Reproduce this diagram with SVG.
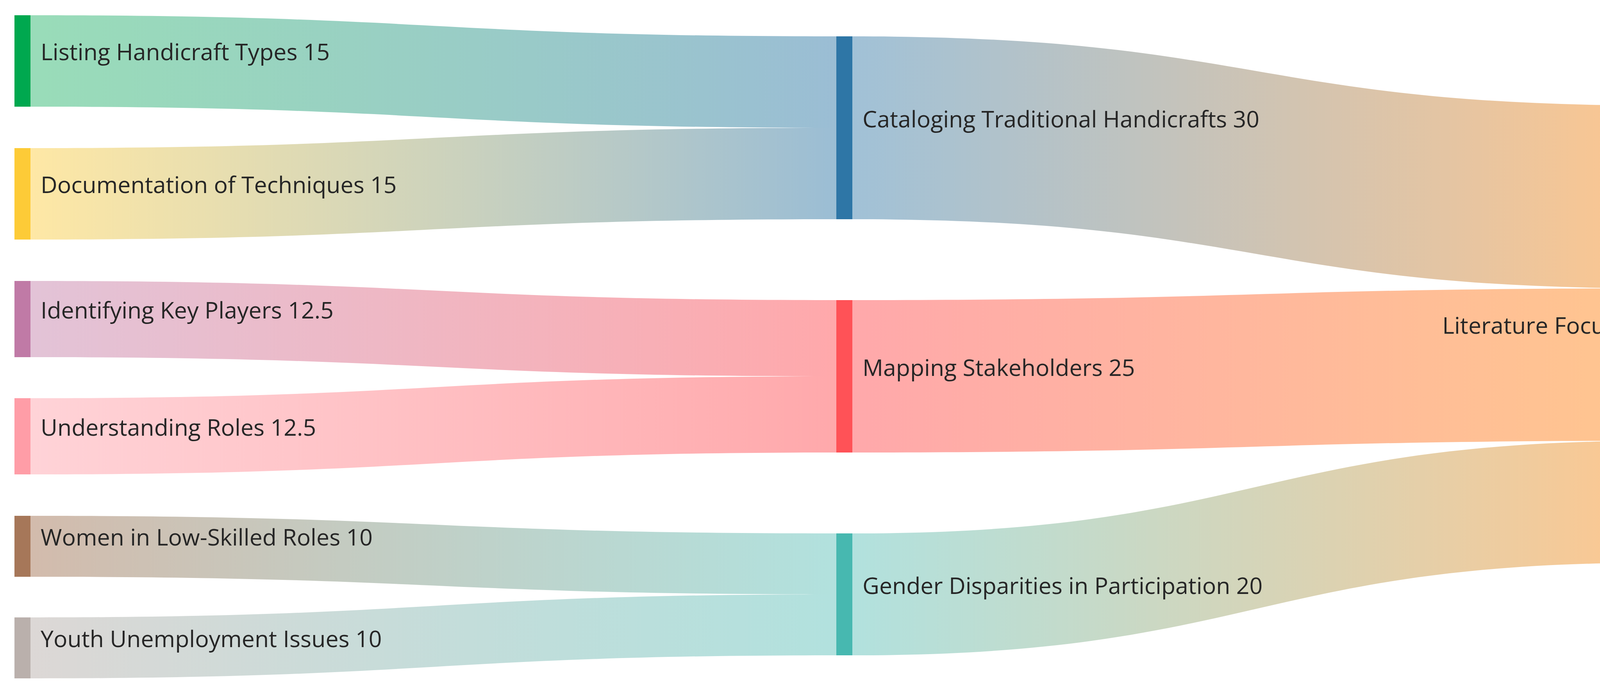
<svg xmlns="http://www.w3.org/2000/svg" width="4334" height="1776" viewBox="0 0 4334 1776">
<style>
text{font-family:"Open Sans","Liberation Sans",sans-serif;font-size:59px;fill:#262626}
.lk{stroke:none}
</style>
<defs>
<linearGradient id="g1" x1="0" x2="1"><stop offset="0" stop-color="#00A84F" stop-opacity="0.4"/><stop offset="1" stop-color="#2E76A6" stop-opacity="0.48"/></linearGradient>
<linearGradient id="g2" x1="0" x2="1"><stop offset="0" stop-color="#FDCB37" stop-opacity="0.45"/><stop offset="1" stop-color="#2E76A6" stop-opacity="0.48"/></linearGradient>
<linearGradient id="g3" x1="0" x2="1"><stop offset="0" stop-color="#C07AA6" stop-opacity="0.45"/><stop offset="1" stop-color="#FF5257" stop-opacity="0.5"/></linearGradient>
<linearGradient id="g4" x1="0" x2="1"><stop offset="0" stop-color="#FF9DA7" stop-opacity="0.45"/><stop offset="1" stop-color="#FF5257" stop-opacity="0.5"/></linearGradient>
<linearGradient id="g5" x1="0" x2="1"><stop offset="0" stop-color="#A67759" stop-opacity="0.5"/><stop offset="1" stop-color="#47B8B0" stop-opacity="0.42"/></linearGradient>
<linearGradient id="g6" x1="0" x2="1"><stop offset="0" stop-color="#BAB0AC" stop-opacity="0.5"/><stop offset="1" stop-color="#47B8B0" stop-opacity="0.42"/></linearGradient>
<linearGradient id="g7" x1="0" x2="1"><stop offset="0" stop-color="#2E76A6" stop-opacity="0.45"/><stop offset="1" stop-color="#FF8E1E" stop-opacity="0.5"/></linearGradient>
<linearGradient id="g8" x1="0" x2="1"><stop offset="0" stop-color="#FF5257" stop-opacity="0.5"/><stop offset="1" stop-color="#FF8E1E" stop-opacity="0.5"/></linearGradient>
<linearGradient id="g9" x1="0" x2="1"><stop offset="0" stop-color="#47B8B0" stop-opacity="0.42"/><stop offset="1" stop-color="#FF8E1E" stop-opacity="0.5"/></linearGradient>
</defs>
<g id="connectors">
<path class="lk" fill="url(#g1)" d="M78,39 C1110,39 1110,93 2141,93 L2141,327 C1110,327 1110,273 78,273 Z"/>
<path class="lk" fill="url(#g2)" d="M78,379 C1110,379 1110,327 2141,327 L2141,561 C1110,561 1110,613 78,613 Z"/>
<path class="lk" fill="url(#g3)" d="M78,719 C1110,719 1110,768 2141,768 L2141,963 C1110,963 1110,914 78,914 Z"/>
<path class="lk" fill="url(#g4)" d="M78,1019 C1110,1019 1110,963 2141,963 L2141,1158 C1110,1158 1110,1214 78,1214 Z"/>
<path class="lk" fill="url(#g5)" d="M78,1320 C1110,1320 1110,1365 2141,1365 L2141,1521 C1110,1521 1110,1476 78,1476 Z"/>
<path class="lk" fill="url(#g6)" d="M78,1580 C1110,1580 1110,1521 2141,1521 L2141,1677 C1110,1677 1110,1736 78,1736 Z"/>
<path class="lk" fill="url(#g7)" d="M2182,93 C3214,93 3214,270 4246,270 L4246,738 C3214,738 3214,561 2182,561 Z"/>
<path class="lk" fill="url(#g8)" d="M2182,768 C3214,768 3214,738 4246,738 L4246,1128 C3214,1128 3214,1158 2182,1158 Z"/>
<path class="lk" fill="url(#g9)" d="M2182,1365 C3214,1365 3214,1128 4246,1128 L4246,1440 C3214,1440 3214,1677 2182,1677 Z"/>
</g>
<g id="n1"><rect x="37" y="39" width="41" height="234" fill="#00A84F"/><text x="104" y="154">Listing Handicraft Types 15</text></g>
<g id="n2"><rect x="37" y="379" width="41" height="234" fill="#FDCB37"/><text x="104" y="494">Documentation of Techniques 15</text></g>
<g id="n3"><rect x="37" y="719" width="41" height="195" fill="#C07AA6"/><text x="104" y="815">Identifying Key Players 12.5</text></g>
<g id="n4"><rect x="37" y="1019" width="41" height="195" fill="#FF9DA7"/><text x="104" y="1115">Understanding Roles 12.5</text></g>
<g id="n5"><rect x="37" y="1320" width="41" height="156" fill="#A67759"/><text x="104" y="1396">Women in Low-Skilled Roles 10</text></g>
<g id="n6"><rect x="37" y="1580" width="41" height="156" fill="#BAB0AC"/><text x="104" y="1656">Youth Unemployment Issues 10</text></g>
<g id="n7"><rect x="2141" y="93" width="41" height="468" fill="#2E76A6"/><text x="2208" y="326">Cataloging Traditional Handicrafts 30</text></g>
<g id="n8"><rect x="2141" y="768" width="41" height="390" fill="#FF5257"/><text x="2208" y="962">Mapping Stakeholders 25</text></g>
<g id="n9"><rect x="2141" y="1365" width="41" height="312" fill="#47B8B0"/><text x="2208" y="1520">Gender Disparities in Participation 20</text></g>
<g id="n10"><rect x="4246" y="270" width="41" height="1170" fill="#FF8E1E"/><text x="4220" y="854" text-anchor="end">Literature Focus 75</text></g>
</svg>
